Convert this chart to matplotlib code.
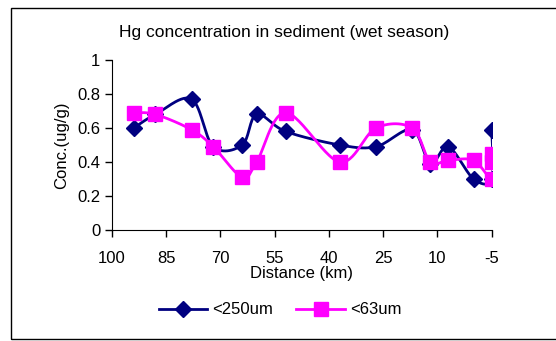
import matplotlib.pyplot as plt
import numpy as np
from matplotlib.patches import Rectangle
from matplotlib.lines import Line2D

plt.rcParams['font.family'] = ['Liberation Sans Narrow', 'Liberation Sans', 'DejaVu Sans']

# distance (km) and concentration (ug/g)
km_250 = [94, 88, 78, 72, 64, 60, 52, 37, 27, 17, 12, 7, 0, -5, -5]
conc_250 = [0.60, 0.68, 0.77, 0.49, 0.50, 0.68, 0.58, 0.50, 0.49, 0.59, 0.39, 0.49, 0.30, 0.30, 0.59]

km_63 = [94, 88, 78, 72, 64, 60, 52, 37, 27, 17, 12, 7, 0, -5, -5, -5]
conc_63 = [0.69, 0.68, 0.59, 0.49, 0.31, 0.40, 0.69, 0.40, 0.60, 0.60, 0.40, 0.41, 0.41, 0.30, 0.45, 0.40]

xticks = [100, 85, 70, 55, 40, 25, 10, -5]
yticks = [0, 0.2, 0.4, 0.6, 0.8, 1]


def smooth(x, y, n=30):
    # catmull-rom style smoothing like the spreadsheet "smoothed line"
    x = np.asarray(x, float)
    y = np.asarray(y, float)
    px = np.concatenate([[x[0]], x, [x[-1]]])
    py = np.concatenate([[y[0]], y, [y[-1]]])
    xs, ys = [], []
    t = np.linspace(0, 1, n)
    for i in range(1, len(px) - 2):
        p0, p1, p2, p3 = (px[i-1], py[i-1]), (px[i], py[i]), (px[i+1], py[i+1]), (px[i+2], py[i+2])
        c1 = (p1[0] + (p2[0] - p0[0]) / 6, p1[1] + (p2[1] - p0[1]) / 6)
        c2 = (p2[0] - (p3[0] - p1[0]) / 6, p2[1] - (p3[1] - p1[1]) / 6)
        for k in range(2):
            b = ((1 - t) ** 3 * p1[k] + 3 * (1 - t) ** 2 * t * c1[k]
                 + 3 * (1 - t) * t ** 2 * c2[k] + t ** 3 * p2[k])
            (xs if k == 0 else ys).append(b)
    return np.concatenate(xs), np.concatenate(ys)


navy = '#000080'
pink = '#ff00ff'

fig = plt.figure(figsize=(5.56, 3.41), dpi=100)
fig.patches.append(Rectangle((11 / 556, 2 / 341), 1.2, 331 / 341, transform=fig.transFigure,
                             fill=False, edgecolor='black', linewidth=1.0))

ax = fig.add_axes([112 / 556, 1 - 230 / 341, (491.7 - 112) / 556, 170 / 341])

sx, sy = smooth(km_250, conc_250)
ax.plot(sx, sy, color=navy, linewidth=2, zorder=2)
ax.plot(km_250, conc_250, linestyle='none', marker='D', markersize=8, color=navy, zorder=3)

sx, sy = smooth(km_63, conc_63)
ax.plot(sx, sy, color=pink, linewidth=2, zorder=4)
ax.plot(km_63, conc_63, linestyle='none', marker='s', markersize=10, color=pink, zorder=5)

ax.set_xlim(100, -5)
ax.set_ylim(0, 1)
ax.set_xticks(xticks)
ax.set_xticklabels([str(v) for v in xticks])
ax.set_yticks(yticks)
ax.set_yticklabels(['0', '0.2', '0.4', '0.6', '0.8', '1'])
ax.spines['top'].set_visible(False)
ax.spines['right'].set_visible(False)
ax.tick_params(direction='out', length=5, width=1, labelsize=12)
ax.tick_params(axis='x', pad=10)
ax.set_xlabel('Distance (km)', fontsize=12, labelpad=0)
ax.set_ylabel('Conc.(ug/g)', fontsize=12, labelpad=6)
ax.patch.set_alpha(0)

fig.text(284 / 556, 1 - 33 / 341, 'Hg concentration in sediment (wet season)',
         ha='center', va='center', fontsize=12.5)

handles = [Line2D([], [], color=navy, marker='D', markersize=8, linewidth=2),
           Line2D([], [], color=pink, marker='s', markersize=10, linewidth=2)]
fig.legend(handles, ['<250um', '<63um'], loc='center', bbox_to_anchor=(280 / 556, 1 - 310 / 341),
           ncol=2, frameon=False, fontsize=12, handlelength=2.9, columnspacing=1.4,
           handletextpad=0.3)

fig.savefig('out.png', dpi=100)
